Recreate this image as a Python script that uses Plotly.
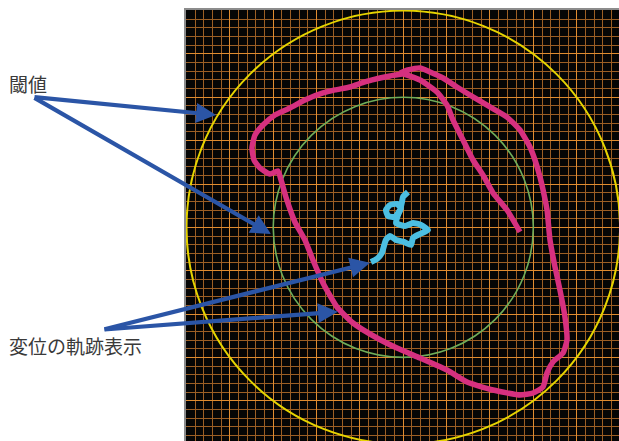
import plotly.graph_objects as go

# ---- data (chart units: 1 unit = one minor grid cell) ----
threshold_outer_r = 25
threshold_inner_r = 15

magenta_x = [13.46, 11.96, 10.35, 9.19, 8.04, 6.89, 5.73, 5.03, 3.88, 1.93, -0.03, -1.53, -2.69,
             -4.43, -6.15, -7.88, -9.26, -11.34, -13.07, -14.8, -16.18, -17.1, -17.45, -17.22,
             -16.53, -15.38, -14.45, -14.1, -13.43, -12.5, -11.34, -10.42, -9.26, -7.65, -5.8,
             -3.03, -0.73, 1.93, 5.04, 7.35, 10.35, 13.46, 14.96, 16.12, 16.58, 17.27, 18.42,
             18.88, 18.65, 18.07, 17.5, 16.92, 16.58, 16.12, 15.77, 15.19, 14.61, 13.46, 11.96,
             10.0, 8.04, 6.19, 4.58, 3.08, 1.93, 0.54, -0.38]
magenta_y = [-0.53, 2.0, 3.97, 6.04, 7.77, 10.08, 12.39, 14.12, 15.62, 17.0, 17.69, 17.46, 17.23,
             16.77, 16.19, 15.85, 15.5, 14.69, 13.77, 12.96, 11.81, 10.66, 9.16, 7.77,
             6.85, 6.15, 6.5, 5.47, 3.16, 0.62, -1.45, -3.76, -6.41, -9.18, -11.03,
             -12.76, -13.92, -15.07, -16.45, -17.84, -18.76, -19.34, -19.1, -18.4, -16.78, -15.51, -14.49,
             -12.99, -10.34, -7.22, -4.57, -1.45, 2.01, 4.32, 5.81, 7.77, 9.27, 11.23, 12.72,
             13.89, 15.04, 16.19, 17.23, 17.92, 18.39, 18.15, 17.81]

cyan_x = [-3.73, -3.03, -2.46, -2.23, -2.0, -1.53, -0.84, 0.08, 0.89, 1.12, 1.93, 2.85, 2.04, 1.12,
          0.2, -0.84, -0.61, -0.27, -0.73, -1.53, -2.0, -1.76, -0.96, -0.38, -0.15, -0.03, 0.54]
cyan_y = [-3.99, -3.64, -2.95, -2.15, -1.45, -0.99, -1.45, -1.68, -2.03, -1.22, -0.76, -0.3, 0.28, 0.51,
          0.16, 0.51, 1.43, 2.24, 2.7, 2.58, 2.01, 1.31, 1.2, 2.01, 2.93, 3.51, 4.08]

label_threshold = "閾値"
label_trace = "変位の軌跡表示"

x_range = [-25.06, 24.88]
y_range = [-24.64, 25.07]
minor_step = 1
major_step = 5

# ---- figure ----
fig = go.Figure()

# empty trace so the overlay (major-grid) subplot exists
fig.add_trace(go.Scatter(x=[], y=[], xaxis="x2", yaxis="y2", hoverinfo="skip", showlegend=False))

fig.add_trace(go.Scatter(x=magenta_x, y=magenta_y, mode="lines",
                         line=dict(color="#d6307f", width=5.5, shape="spline", smoothing=0.5),
                         hoverinfo="skip", showlegend=False))
fig.add_trace(go.Scatter(x=cyan_x, y=cyan_y, mode="lines",
                         line=dict(color="#4cbfe2", width=6, shape="spline", smoothing=0.5),
                         hoverinfo="skip", showlegend=False))

fig.add_shape(type="circle", xref="x", yref="y",
              x0=-threshold_outer_r, x1=threshold_outer_r, y0=-threshold_outer_r, y1=threshold_outer_r,
              line=dict(color="#e6d400", width=2), layer="between")
fig.add_shape(type="circle", xref="x", yref="y",
              x0=-threshold_inner_r, x1=threshold_inner_r, y0=-threshold_inner_r, y1=threshold_inner_r,
              line=dict(color="#6fae5a", width=1.6), layer="between")

arrow_color = "#2b55a6"
arrow_kw = dict(showarrow=True, arrowhead=2, arrowsize=0.95, arrowwidth=4.2,
                arrowcolor=arrow_color, text="", xref="x", yref="y", standoff=0)
# 閾値 arrows
fig.add_annotation(x=-21.6, y=12.96, ax=-183, ay=-18, **arrow_kw)
fig.add_annotation(x=-15.26, y=-0.76, ax=-238, ay=-137, **arrow_kw)
# 変位の軌跡表示 arrows
fig.add_annotation(x=-3.84, y=-4.07, ax=-267, ay=67, **arrow_kw)
fig.add_annotation(x=-7.54, y=-9.72, ax=-235, ay=18, **arrow_kw)

font_kw = dict(family="Noto Sans CJK JP", size=19, color="#3a3a3a")
fig.add_annotation(text=label_threshold, xref="paper", yref="paper", x=-0.413, y=0.8295,
                   xanchor="left", yanchor="middle", showarrow=False, font=font_kw)
fig.add_annotation(text=label_trace, xref="paper", yref="paper", x=-0.413, y=0.2227,
                   xanchor="left", yanchor="middle", showarrow=False, font=font_kw)

base = dict(showticklabels=False, ticks="", zeroline=False, showgrid=True,
            tick0=0, gridwidth=1, fixedrange=True)
minor_grid = dict(base, dtick=minor_step, gridcolor="#9c5e24")
major_grid = dict(base, dtick=major_step, gridcolor="#e08c30", showline=False)

fig.update_layout(
    template="none", width=619, height=441, autosize=False,
    margin=dict(l=186, r=0, t=10, b=0),
    paper_bgcolor="white", plot_bgcolor="#050505", showlegend=False,
    xaxis=dict(minor_grid, range=x_range, side="top", showline=True,
               linecolor="#8c8c8c", linewidth=2),
    yaxis=dict(minor_grid, range=y_range, showline=True, linecolor="#8c8c8c", linewidth=2),
    xaxis2=dict(major_grid, range=x_range, overlaying="x", anchor="y2"),
    yaxis2=dict(major_grid, range=y_range, overlaying="y", anchor="x2"),
)

fig.write_html("out.html", config={"displayModeBar": False},
               post_script="document.body.style.margin='0';document.body.style.overflow='hidden';")
